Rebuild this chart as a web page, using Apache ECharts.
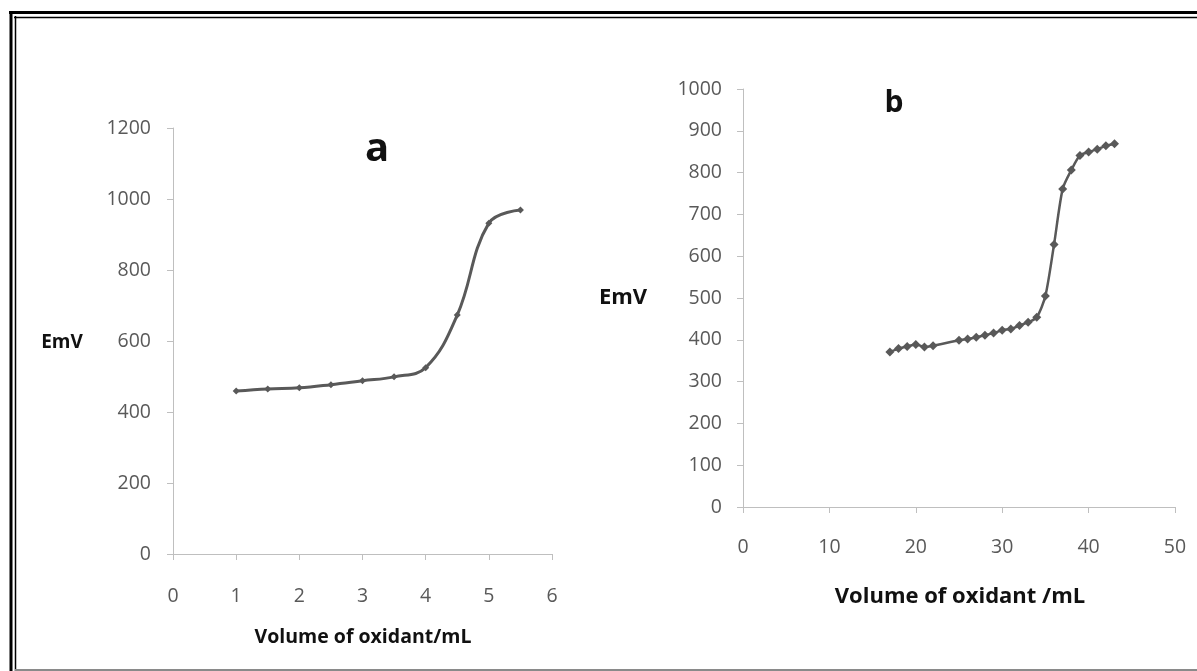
<!DOCTYPE html>
<html>
<head>
<meta charset="utf-8">
<script src="https://cdn.jsdelivr.net/npm/echarts@6/dist/echarts.min.js"></script>
<style>
html, body { margin: 0; padding: 0; background: #fff; }
#chart { width: 1197px; height: 671px; }
</style>
</head>
<body>
<div id="chart"></div>
<script>
// panel a
var volA = [1, 1.5, 2, 2.5, 3, 3.5, 4, 4.5, 5, 5.5];
var emfA = [459, 465, 468, 477, 488, 499, 525, 673, 932, 969];
// panel b
var volB = [17, 18, 19, 20, 21, 22, 25, 26, 27, 28, 29, 30, 31, 32, 33, 34, 35, 36, 37, 38, 39, 40, 41, 42, 43];
var emfB = [371, 379, 384, 389, 383, 386, 399, 402, 406, 411, 416, 423, 426, 434, 442, 454, 505, 628, 761, 806, 841, 849, 856, 864, 869];

var xTitleA = 'Volume of oxidant/mL';
var xTitleB = 'Volume of oxidant /mL';
var yTitle = 'EmV';

var font = '"Open Sans", "DejaVu Sans", sans-serif';
var grey = '#595959';
var axisGrey = '#bfbfbf';

function pairs(xs, ys) {
    return xs.map(function (x, i) { return [x, ys[i]]; });
}

function valueAxis(gridIndex, min, max, interval, margin) {
    return {
        type: 'value',
        gridIndex: gridIndex,
        min: min,
        max: max,
        interval: interval,
        splitLine: { show: false },
        axisLine: { show: true, onZero: false, lineStyle: { color: axisGrey, width: 1 } },
        axisTick: { show: true, length: 6, lineStyle: { color: axisGrey } },
        axisLabel: {
            color: grey, fontFamily: font, fontSize: 19.5, margin: margin,
            formatter: function (v) { return String(v); }
        }
    };
}

function lineSeries(idx, data, smooth, symbolSize, width) {
    return {
        type: 'line',
        xAxisIndex: idx,
        yAxisIndex: idx,
        data: data,
        smooth: smooth,
        symbol: 'diamond',
        symbolSize: symbolSize,
        itemStyle: { color: grey },
        lineStyle: { color: grey, width: width },
        animation: false
    };
}

function label(text, x, y, size, align) {
    return {
        type: 'text',
        x: x,
        y: y,
        style: {
            text: text,
            font: 'bold ' + size + 'px ' + font,
            fill: '#111',
            align: align || 'center',
            verticalAlign: 'middle'
        }
    };
}

function hline(x1, x2, y, w, c) {
    return { type: 'line', shape: { x1: x1, y1: y, x2: x2, y2: y }, style: { stroke: c, lineWidth: w } };
}
function vline(x, y1, y2, w, c) {
    return { type: 'line', shape: { x1: x, y1: y1, x2: x, y2: y2 }, style: { stroke: c, lineWidth: w } };
}

var chart = echarts.init(document.getElementById('chart'));
chart.setOption({
    backgroundColor: '#fff',
    animation: false,
    grid: [
        { left: 173, top: 128, width: 379, height: 426 },
        { left: 743, top: 89, width: 432, height: 418 }
    ],
    xAxis: [
        valueAxis(0, 0, 6, 1, 32),
        valueAxis(1, 0, 50, 10, 30)
    ],
    yAxis: [
        valueAxis(0, 0, 1200, 200, 22),
        valueAxis(1, 0, 1000, 100, 21)
    ],
    series: [
        lineSeries(0, pairs(volA, emfA), 0.4, 7, 3),
        lineSeries(1, pairs(volB, emfB), 0.25, 9, 2.5)
    ],
    graphic: [
        // double frame
        hline(9, 1197, 12.5, 3, '#000'),
        hline(14, 1197, 17.5, 1.5, '#000'),
        vline(11, 11, 671, 3, '#000'),
        vline(15.5, 16, 671, 1.5, '#000'),
        hline(15, 1197, 670, 2, '#8a8a8a'),
        // titles and letters
        label('a', 377, 150, 40),
        label('b', 894, 103, 30),
        label(yTitle, 62, 343, 19),
        label(yTitle, 623, 298, 22),
        label(xTitleA, 363, 637, 19.5),
        label(xTitleB, 960, 597, 22)
    ]
});
</script>
</body>
</html>
